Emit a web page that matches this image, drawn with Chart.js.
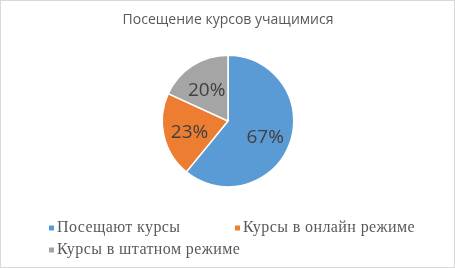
<!DOCTYPE html>
<html>
<head>
<meta charset="utf-8">
<script src="https://cdn.jsdelivr.net/npm/chart.js@4"></script>
<style>
  html, body { margin: 0; padding: 0; background: #fff; }
  #wrap { width: 455px; height: 268px; box-sizing: border-box; border: 1px solid #d9d9d9; background: #fff; }
  canvas { display: block; }
</style>
</head>
<body>
<div id="wrap"><canvas id="pieChart" width="453" height="266"></canvas></div>
<script>
// данные диаграммы
const categories = ['Посещают курсы', 'Курсы в онлайн режиме', 'Курсы в штатном режиме'];
const percentValues = [67, 23, 20];
const sliceColors = ['#5B9BD5', '#ED7D31', '#A5A5A5'];
const chartTitle = 'Посещение курсов учащимися';

// подписи процентов внутри секторов
const sliceLabels = {
    id: 'sliceLabels',
    afterDatasetsDraw(chart) {
        const ctx = chart.ctx;
        const meta = chart.getDatasetMeta(0);
        ctx.save();
        ctx.font = '19px "Open Sans"';
        ctx.fillStyle = '#404040';
        ctx.textAlign = 'center';
        ctx.textBaseline = 'middle';
        meta.data.forEach((arc, i) => {
            const p = arc.getProps(['x', 'y', 'startAngle', 'endAngle', 'outerRadius'], true);
            const mid = (p.startAngle + p.endAngle) / 2;
            const r = p.outerRadius * 0.6;
            ctx.fillText(chart.data.datasets[0].data[i] + '%', p.x + Math.cos(mid) * r, p.y + Math.sin(mid) * r + 3);
        });
        ctx.restore();
    }
};

// легенда в две колонки как в Excel
const gridLegend = {
    id: 'gridLegend',
    afterDraw(chart) {
        const ctx = chart.ctx;
        const colX = [48, 234];
        const rowY = [227, 249];
        ctx.save();
        ctx.font = '16px "Liberation Serif"';
        ctx.letterSpacing = '0.4px';
        ctx.textBaseline = 'middle';
        chart.data.labels.forEach((label, i) => {
            const x = colX[i % 2];
            const y = rowY[Math.floor(i / 2)];
            ctx.fillStyle = chart.data.datasets[0].backgroundColor[i];
            ctx.fillRect(x, y - 2.5, 5, 5);
            ctx.fillStyle = '#595959';
            ctx.fillText(label, x + 8, y);
        });
        ctx.restore();
    }
};

new Chart(document.getElementById('pieChart'), {
    type: 'pie',
    data: {
        labels: categories,
        datasets: [{
            data: percentValues,
            backgroundColor: sliceColors,
            borderColor: '#ffffff',
            borderWidth: 1.5
        }]
    },
    options: {
        responsive: false,
        animation: false,
        layout: { padding: { left: 1, right: 0, top: 0, bottom: 79.5 } },
        plugins: {
            legend: { display: false },
            tooltip: { enabled: false },
            title: {
                display: true,
                text: chartTitle,
                color: '#595959',
                font: { family: 'Open Sans', size: 14, weight: 'normal' },
                padding: { top: 11, bottom: 25.7 }
            }
        }
    },
    plugins: [sliceLabels, gridLegend]
});
</script>
</body>
</html>
